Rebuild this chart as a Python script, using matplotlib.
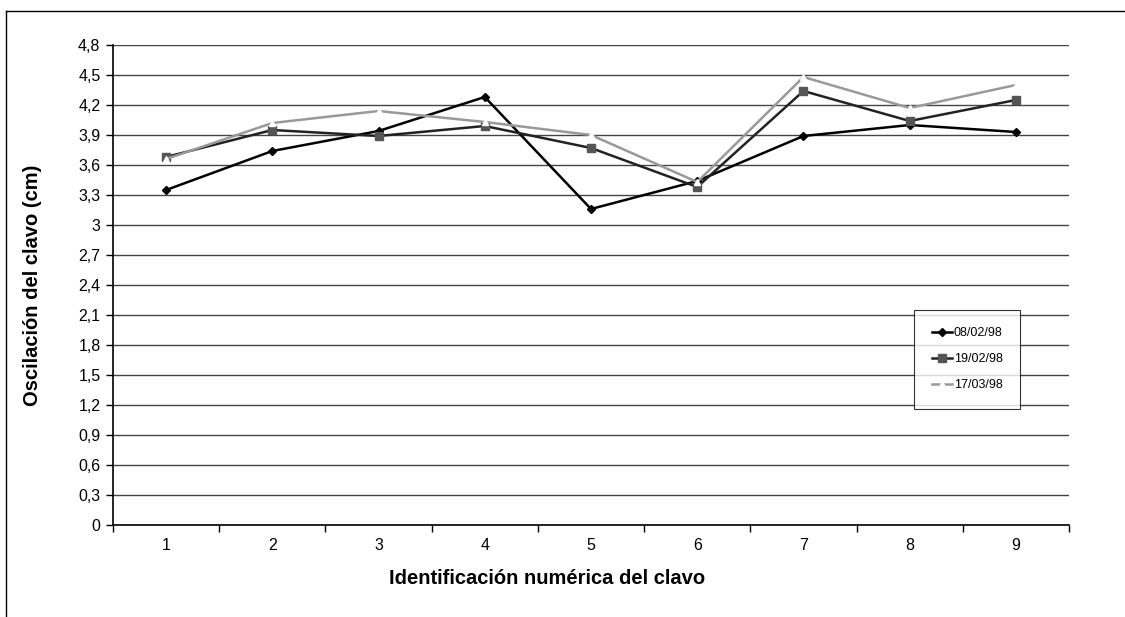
import numpy as np
import matplotlib.pyplot as plt
from matplotlib.lines import Line2D
from matplotlib.ticker import FuncFormatter, FixedLocator

plt.rcParams['font.family'] = ['Liberation Sans', 'DejaVu Sans']

# datos
clavos = [1, 2, 3, 4, 5, 6, 7, 8, 9]
serie_0802 = [3.35, 3.74, 3.94, 4.28, 3.16, 3.44, 3.89, 4.00, 3.93]
serie_1902 = [3.68, 3.95, 3.89, 3.99, 3.77, 3.38, 4.34, 4.04, 4.25]
serie_1703 = [3.66, 4.02, 4.14, 4.03, 3.90, 3.43, 4.48, 4.17, 4.40]
etiquetas = ['08/02/98', '19/02/98', '17/03/98']

fig = plt.figure(figsize=(11.25, 6.17), dpi=100)
ax = fig.add_axes([113/1125, 1 - 525/617, (1069 - 113)/1125, (525 - 45)/617])

x = np.array(clavos)
ax.plot(x, serie_0802, c='k', lw=1.8, marker='D', ms=4, mfc='k', mec='k', label=etiquetas[0])
ax.plot(x, serie_1902, c='#222222', lw=1.8, marker='s', ms=5.5, mfc='#555555', mec='#555555', label=etiquetas[1])
ax.plot(x, serie_1703, c='#999999', lw=1.8, marker='^', ms=5, mfc='white', mec='white', label=etiquetas[2])

# ejes
def coma(v, p):
    if abs(v - round(v)) < 1e-9:
        return '%d' % round(v)
    return ('%.1f' % v).replace('.', ',')

ax.set_xlim(0.5, 9.5)
ax.set_ylim(0, 4.8)
ax.set_yticks(np.arange(0, 4.81, 0.3))
ax.yaxis.set_major_formatter(FuncFormatter(coma))
ax.xaxis.set_major_locator(FixedLocator(np.arange(0.5, 9.6, 1)))
ax.xaxis.set_minor_locator(FixedLocator(clavos))
ax.xaxis.set_major_formatter(FuncFormatter(lambda v, p: ''))
ax.set_xticklabels([str(c) for c in clavos], minor=True)
ax.tick_params(axis='x', which='major', length=5, direction='out', width=1)
ax.tick_params(axis='x', which='minor', length=0, pad=9, labelsize=11.5)
ax.tick_params(axis='y', length=5, direction='out', width=1, labelsize=11.5, pad=4)

ax.grid(True, axis='y', color='#444444', lw=1)
ax.set_axisbelow(True)
for s in ['top', 'right']:
    ax.spines[s].set_visible(False)
ax.spines['left'].set_linewidth(1.2)
ax.spines['bottom'].set_linewidth(1.2)

# títulos de ejes
fig.text(547/1125, 1 - 578/617, 'Identificación numérica del clavo', ha='center', va='center',
         fontsize=14.5, fontweight='bold')
fig.text(33/1125, 1 - 285/617, 'Oscilación del clavo (cm)', ha='center', va='center',
         rotation=90, fontsize=14.5, fontweight='bold')

# leyenda
leg = ax.legend(loc='upper left', bbox_to_anchor=((914 - 113)/956, (525 - 310)/480),
                fontsize=9, frameon=True, fancybox=False, edgecolor='k',
                handlelength=1.6, labelspacing=1.1, borderpad=1.4, handletextpad=0.2,
                borderaxespad=0)
leg.get_frame().set_linewidth(0.8)

# marco exterior
fig.add_artist(Line2D([6/1125, 6/1125], [0, 1 - 11/617], color='k', lw=1))
fig.add_artist(Line2D([6/1125, 1], [1 - 11/617, 1 - 11/617], color='k', lw=1))

plt.savefig('out.png', dpi=100)
